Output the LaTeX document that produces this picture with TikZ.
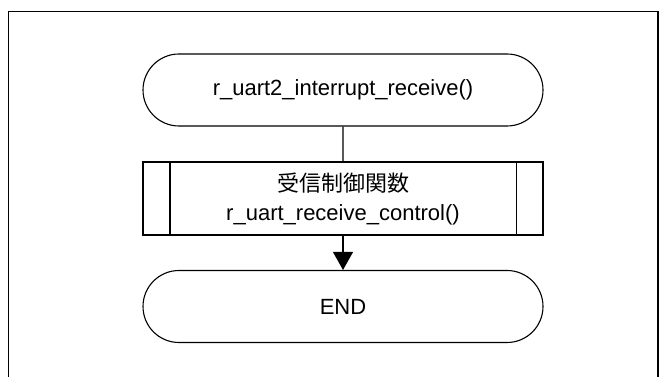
\documentclass[tikz,border=0pt]{standalone}
\usepackage{fontspec}
\setmainfont{Liberation Sans}
\newfontfamily\cjk{Noto Sans CJK JP}
\usetikzlibrary{shapes.misc,arrows.meta}
\begin{document}
\begin{tikzpicture}[x=1pt,y=1pt,
  lbl/.style={font=\fontsize{22}{29}\selectfont, align=center, text=black},
  term/.style={rounded rectangle, draw=black, line width=1.1pt, minimum width=400pt, minimum height=72pt, inner sep=0pt, lbl},
  procbox/.style={rectangle, draw=black, line width=1.1pt, minimum width=400pt, minimum height=73pt, inner sep=0pt, lbl},
  conn/.style={draw=black, line width=1.1pt},
  frameline/.style={draw=black, line width=1.7pt}]
\useasboundingbox (0,0) rectangle (666,377);
% frame
\draw[frameline] (8.5,-5) -- (8.5,365.5) -- (658,365.5) -- (658,-5);
% nodes
\node[term] (start) at (343,287) {r\_uart2\_interrupt\_receive()};
\node[procbox] (proc) at (343,178.5) {{\cjk 受信制御関数}\\r\_uart\_receive\_control()};
\node[term] (end) at (343,70.5) {END};
% inner lines of predefined process
\draw[conn] ([xshift=27.5pt]proc.north west) -- ([xshift=27.5pt]proc.south west);
\draw[conn] ([xshift=-27.5pt]proc.north east) -- ([xshift=-27.5pt]proc.south east);
% connectors
\draw[conn] (start) -- (proc);
\draw[conn, -{Triangle[length=18pt,width=20pt]}] (proc) -- (end);
\end{tikzpicture}
\end{document}
